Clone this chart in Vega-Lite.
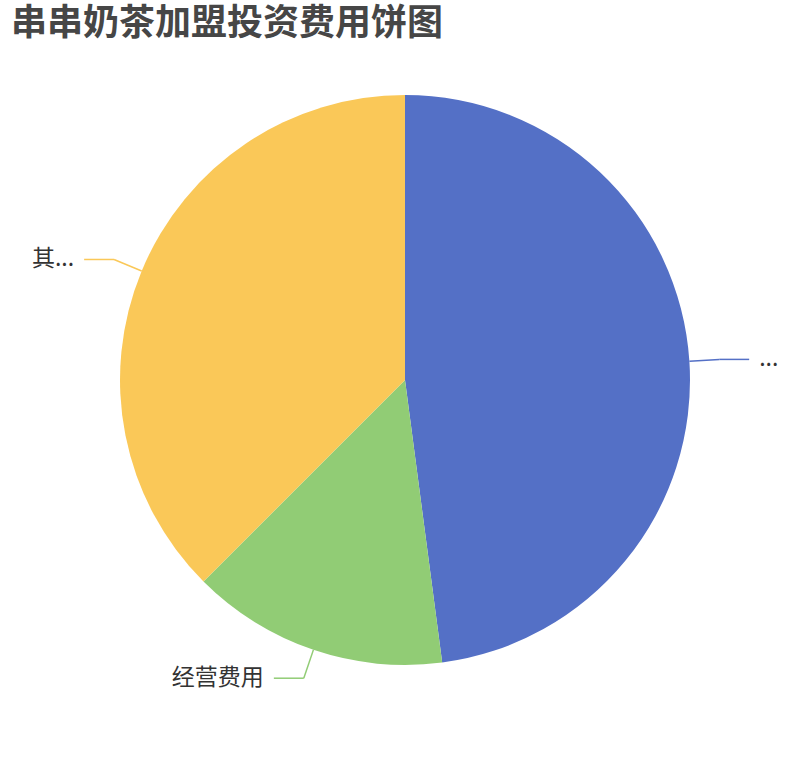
{
  "$schema": "https://vega.github.io/schema/vega-lite/v6.json",
  "width": 810,
  "height": 760,
  "padding": 0,
  "autosize": {"type": "none"},
  "title": {
    "text": "串串奶茶加盟投资费用饼图",
    "anchor": "start",
    "frame": "group",
    "orient": "top",
    "baseline": "bottom",
    "offset": -40,
    "dx": 11,
    "dy": 39,
    "font": "Noto Sans CJK SC",
    "fontSize": 36,
    "fontWeight": "bold",
    "color": "#464646"
  },
  "data": {
    "values": [
      {"name": "加盟费用", "value": 23, "label": "...", "order": 1},
      {"name": "经营费用", "value": 7, "label": "经营费用", "order": 2},
      {"name": "其他费用", "value": 18, "label": "其...", "order": 3}
    ]
  },
  "transform": [
    {"joinaggregate": [{"op": "sum", "field": "value", "as": "total"}]},
    {"window": [{"op": "sum", "field": "value", "as": "cum"}], "sort": [{"field": "order"}], "frame": [null, 0]},
    {"calculate": "2 * PI * (datum.cum - datum.value / 2) / datum.total", "as": "mid"},
    {"calculate": "sin(datum.mid)", "as": "x0"},
    {"calculate": "cos(datum.mid)", "as": "y0"},
    {"calculate": "1.105 * datum.x0", "as": "x1"},
    {"calculate": "1.105 * datum.y0", "as": "y1"},
    {"calculate": "datum.x0 >= 0 ? 1 : -1", "as": "side"},
    {"calculate": "datum.x1 + datum.side * 0.105", "as": "x2"},
    {"calculate": "datum.x2 + datum.side * 0.035", "as": "xt"}
  ],
  "layer": [
    {
      "mark": {"type": "arc", "outerRadius": 285, "stroke": null},
      "encoding": {
        "theta": {"field": "value", "type": "quantitative", "stack": true},
        "order": {"field": "order", "type": "quantitative"},
        "color": {
          "field": "name",
          "type": "nominal",
          "scale": {"domain": ["加盟费用", "经营费用", "其他费用"], "range": ["#5470c6", "#91cc75", "#fac858"]},
          "legend": null
        }
      }
    },
    {
      "mark": {"type": "rule", "strokeWidth": 1.5},
      "encoding": {
        "x": {"field": "x0", "type": "quantitative", "scale": {"domain": [-1.42105, 1.42105], "nice": false, "zero": false}, "axis": null},
        "y": {"field": "y0", "type": "quantitative", "scale": {"domain": [-1.33333, 1.33333], "nice": false, "zero": false}, "axis": null},
        "x2": {"field": "x1"},
        "y2": {"field": "y1"},
        "color": {"field": "name", "type": "nominal", "legend": null}
      }
    },
    {
      "mark": {"type": "rule", "strokeWidth": 1.5},
      "encoding": {
        "x": {"field": "x1", "type": "quantitative", "scale": {"domain": [-1.42105, 1.42105], "nice": false, "zero": false}, "axis": null},
        "y": {"field": "y1", "type": "quantitative", "scale": {"domain": [-1.33333, 1.33333], "nice": false, "zero": false}, "axis": null},
        "x2": {"field": "x2"},
        "color": {"field": "name", "type": "nominal", "legend": null}
      }
    },
    {
      "transform": [{"filter": "datum.side > 0"}],
      "mark": {"type": "text", "align": "left", "baseline": "middle", "font": "Noto Sans CJK SC", "fontSize": 23, "color": "#333333"},
      "encoding": {
        "x": {"field": "xt", "type": "quantitative", "scale": {"domain": [-1.42105, 1.42105], "nice": false, "zero": false}, "axis": null},
        "y": {"field": "y1", "type": "quantitative", "scale": {"domain": [-1.33333, 1.33333], "nice": false, "zero": false}, "axis": null},
        "text": {"field": "label"}
      }
    },
    {
      "transform": [{"filter": "datum.side < 0"}],
      "mark": {"type": "text", "align": "right", "baseline": "middle", "font": "Noto Sans CJK SC", "fontSize": 23, "color": "#333333"},
      "encoding": {
        "x": {"field": "xt", "type": "quantitative", "scale": {"domain": [-1.42105, 1.42105], "nice": false, "zero": false}, "axis": null},
        "y": {"field": "y1", "type": "quantitative", "scale": {"domain": [-1.33333, 1.33333], "nice": false, "zero": false}, "axis": null},
        "text": {"field": "label"}
      }
    }
  ],
  "config": {"view": {"stroke": null}}
}
